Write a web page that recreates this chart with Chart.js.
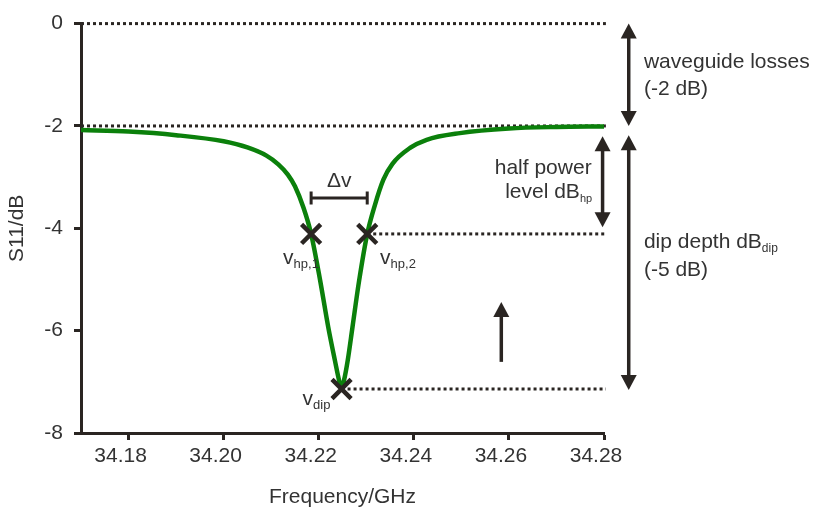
<!DOCTYPE html>
<html>
<head>
<meta charset="utf-8" />
<title>S11 dip</title>
<script src="https://cdn.jsdelivr.net/npm/chart.js@4.4.0/dist/chart.umd.min.js"></script>
<style>
  body { margin: 0; background: #fff; }
</style>
</head>
<body>
<canvas id="joonis" width="820" height="510"></canvas>
<script>
// S11 curve (GHz, dB)
const freq = [34.170, 34.180, 34.190, 34.200, 34.205, 34.209, 34.2115, 34.2135, 34.2150, 34.2168,
              34.2184, 34.2203, 34.2220, 34.2234, 34.2243, 34.2248, 34.2253, 34.2261, 34.2271, 34.2285,
              34.2302, 34.2318, 34.2336, 34.2355, 34.2392, 34.2427, 34.2497, 34.2600, 34.2700, 34.2800];
const s11 = [-2.08, -2.11, -2.18, -2.30, -2.42, -2.58, -2.75, -2.95, -3.18, -3.60,
             -4.11, -5.02, -5.93, -6.58, -6.98, -7.14, -6.98, -6.58, -5.93, -5.02,
             -4.11, -3.55, -3.05, -2.74, -2.43, -2.27, -2.14, -2.05, -2.02, -2.01];

// marked points
const hpFreq = [34.2184, 34.2302];
const hpLevel = -4.11;
const dipFreq = 34.2248;
const dipLevel = -7.14;
const lossLevel = -2;
const refEnd = 34.2804;

// axes
const xTicks = [34.18, 34.20, 34.22, 34.24, 34.26, 34.28];
const yTicks = [0, -2, -4, -6, -8];

const ink = '#2a2522';
const txt = '#333333';
const fam = '"Liberation Sans", Arial, sans-serif';

function dotted(pts) {
  return { data: pts, borderColor: ink, borderWidth: 3, borderDash: [3, 3], pointRadius: 0, clip: false, order: 3 };
}

// arrows, bar and texts on top of the plot
const markings = {
  id: 'markings',
  afterDatasetsDraw(chart) {
    const ctx = chart.ctx;
    const sx = chart.scales.x, sy = chart.scales.y;
    const px = v => sx.getPixelForValue(v);
    const py = v => sy.getPixelForValue(v);
    ctx.save();
    ctx.strokeStyle = ink;
    ctx.fillStyle = ink;

    function head(x, tip, dir) {
      ctx.beginPath();
      ctx.moveTo(x, tip);
      ctx.lineTo(x - 8, tip - dir * 15);
      ctx.lineTo(x + 8, tip - dir * 15);
      ctx.closePath();
      ctx.fill();
    }
    function nool(xv, y1v, y2v, both) {
      const x = px(xv), a = py(y1v), b = py(y2v);
      const dir = Math.sign(b - a);
      ctx.lineWidth = 3.5;
      ctx.beginPath();
      ctx.moveTo(x, both ? a + dir * 12 : a);
      ctx.lineTo(x, b - dir * 12);
      ctx.stroke();
      head(x, b, dir);
      if (both) head(x, a, -dir);
    }
    nool(34.2852, 0, lossLevel, true);
    nool(34.2852, -2.18, -7.16, true);
    nool(34.2797, -2.20, -3.98, true);
    nool(34.2584, -6.61, -5.44, false);

    // delta v bar
    const by = py(-3.41), b1 = px(hpFreq[0]), b2 = px(hpFreq[1]);
    ctx.lineWidth = 3;
    ctx.beginPath();
    ctx.moveTo(b1, by); ctx.lineTo(b2, by);
    ctx.moveTo(b1, by - 6.5); ctx.lineTo(b1, by + 6.5);
    ctx.moveTo(b2, by - 6.5); ctx.lineTo(b2, by + 6.5);
    ctx.stroke();

    ctx.fillStyle = txt;
    ctx.textBaseline = 'alphabetic';
    function label(xv, yv, main, sub, align, size, subSize) {
      ctx.font = size + 'px ' + fam;
      const w1 = ctx.measureText(main).width;
      ctx.font = subSize + 'px ' + fam;
      const w2 = sub ? ctx.measureText(sub).width : 0;
      let x = px(xv);
      if (align === 'right') x -= w1 + w2;
      if (align === 'center') x -= (w1 + w2) / 2;
      const y = py(yv);
      ctx.textAlign = 'left';
      ctx.font = size + 'px ' + fam;
      ctx.fillText(main, x, y);
      if (sub) {
        ctx.font = subSize + 'px ' + fam;
        ctx.fillText(sub, x + w1, y + 4);
      }
    }
    label(34.2884, -0.86, 'waveguide losses', '', 'left', 21, 12);
    label(34.2884, -1.40, '(-2 dB)', '', 'left', 21, 12);
    label(34.2884, -4.38, 'dip depth dB', 'dip', 'left', 21, 12);
    label(34.2884, -4.94, '(-5 dB)', '', 'left', 21, 12);
    label(34.2774, -2.94, 'half power', '', 'right', 21, 12);
    label(34.2775, -3.41, 'level dB', 'hp', 'right', 21, 11);
    label(34.2243, -3.19, '\u0394v', '', 'center', 21, 12);
    label(34.2125, -4.69, 'v', 'hp,1', 'left', 21, 13);
    label(34.2329, -4.69, 'v', 'hp,2', 'left', 21, 13);
    label(34.2166, -7.45, 'v', 'dip', 'left', 21, 13);
    ctx.restore();
  }
};

new Chart(document.getElementById('joonis'), {
  type: 'line',
  data: {
    datasets: [
      {
        data: freq.map((f, i) => ({ x: f, y: s11[i] })),
        borderColor: '#0b800b',
        borderWidth: 4.5,
        pointRadius: 0,
        cubicInterpolationMode: 'monotone',
        order: 2
      },
      dotted([{ x: 34.17, y: 0 }, { x: refEnd, y: 0 }]),
      dotted([{ x: 34.17, y: lossLevel }, { x: refEnd, y: lossLevel }]),
      dotted([{ x: hpFreq[1], y: hpLevel }, { x: refEnd, y: hpLevel }]),
      dotted([{ x: dipFreq, y: dipLevel }, { x: refEnd, y: dipLevel }]),
      {
        data: [{ x: hpFreq[0], y: hpLevel }, { x: hpFreq[1], y: hpLevel }, { x: dipFreq, y: dipLevel }],
        showLine: false,
        pointStyle: 'crossRot',
        pointRadius: 13.5,
        pointBorderWidth: 4.5,
        pointBorderColor: ink,
        clip: false,
        order: 1
      }
    ]
  },
  options: {
    responsive: false,
    animation: false,
    devicePixelRatio: 1,
    layout: { padding: { top: 22, right: 216, left: 0, bottom: 0 } },
    plugins: { legend: { display: false }, tooltip: { enabled: false } },
    scales: {
      x: {
        type: 'linear',
        min: 34.17,
        max: 34.28,
        afterBuildTicks: a => { a.ticks = xTicks.map(v => ({ value: v })); },
        afterFit: a => { a.height = 77; },
        border: { display: true, width: 3, color: ink },
        grid: { drawOnChartArea: false, tickLength: 7, tickWidth: 3, tickColor: ink },
        ticks: { color: txt, font: { family: fam, size: 21 }, padding: 4, labelOffset: -8, maxRotation: 0,
                 callback: v => v.toFixed(2) },
        title: { display: true, text: 'Frequency/GHz', color: txt, font: { family: fam, size: 21 }, padding: { top: 0, bottom: 0 } }
      },
      y: {
        min: -8,
        max: 0,
        afterBuildTicks: a => { a.ticks = yTicks.map(v => ({ value: v })); },
        afterFit: a => { a.width = 81; },
        border: { display: true, width: 3, color: ink },
        grid: { drawOnChartArea: false, tickLength: 7, tickWidth: 3, tickColor: ink },
        ticks: { color: txt, font: { family: fam, size: 21 }, padding: 11, callback: v => String(v) },
        title: { display: true, text: 'S11/dB', color: txt, font: { family: fam, size: 21 }, padding: 5 }
      }
    }
  },
  plugins: [markings]
});
</script>
</body>
</html>
